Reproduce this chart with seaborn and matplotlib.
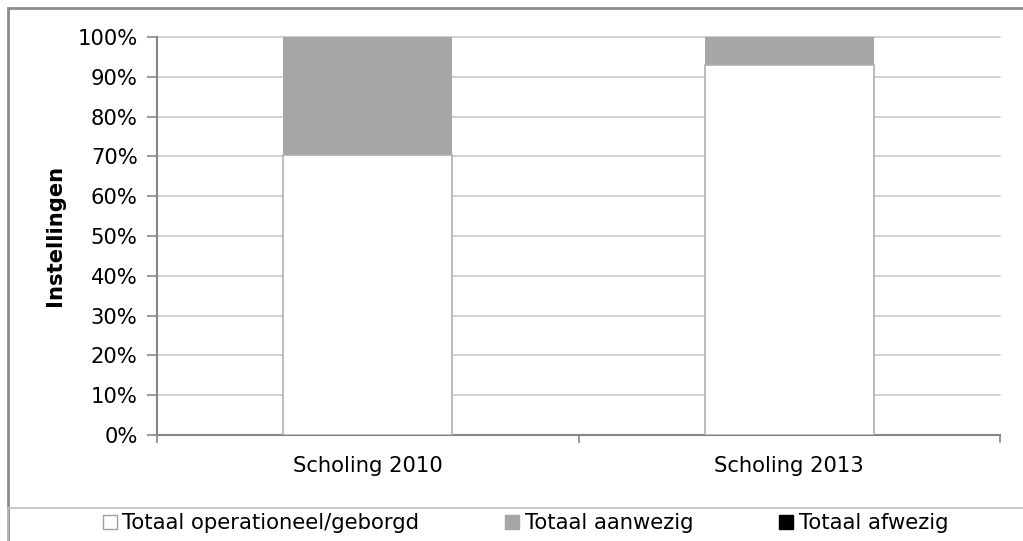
import matplotlib
matplotlib.use("Agg")
import matplotlib.pyplot as plt
import seaborn as sns
import pandas as pd
import numpy as np
from matplotlib.patches import Rectangle
from matplotlib.lines import Line2D

categories = ["Scholing 2010", "Scholing 2013"]
operationeel = [70.4, 92.9]
aanwezig = [29.6, 7.1]
afwezig = [0.0, 0.0]
series_names = ["Totaal operationeel/geborgd", "Totaal aanwezig", "Totaal afwezig"]
series_colors = ["#ffffff", "#a6a6a6", "#000000"]
y_ticks = [0, 10, 20, 30, 40, 50, 60, 70, 80, 90, 100]
y_tick_labels = [f"{v}%" for v in y_ticks]
y_label = "Instellingen"

sns.set_style("white")
plt.rcParams['font.family'] = ['DejaVu Sans']
plt.rcParams['text.color'] = 'black'
plt.rcParams['xtick.color'] = 'black'
plt.rcParams['ytick.color'] = 'black'
FS = 15.2

W, H = 1023, 541
fig = plt.figure(figsize=(W / 100, H / 100), dpi=100)
L, R, T, B = 157, 1000, 37, 435
ax = fig.add_axes([L / W, 1 - B / H, (R - L) / W, (B - T) / H])

cum1 = np.array(operationeel)
cum2 = cum1 + np.array(aanwezig)
cum3 = cum2 + np.array(afwezig)
df = pd.DataFrame({"cat": categories, "c1": cum1, "c2": cum2, "c3": cum3})

grid_c = "#c8c8c8"
axis_c = "#868686"
for yv in y_ticks[1:]:
    ax.axhline(yv, color=grid_c, lw=1.2, zorder=0, clip_on=False)

sns.barplot(data=df, x="cat", y="c3", color=series_colors[2], width=0.4,
            edgecolor="none", linewidth=0, saturation=1, ax=ax, zorder=2)
sns.barplot(data=df, x="cat", y="c2", color=series_colors[1], width=0.4,
            edgecolor="none", linewidth=0, saturation=1, ax=ax, zorder=3)
sns.barplot(data=df, x="cat", y="c1", color=series_colors[0], width=0.4,
            edgecolor="#b0b0b0", linewidth=1.2, saturation=1, ax=ax, zorder=4)

ax.set_xlim(-0.5, 1.5)
ax.set_ylim(0, 100)
ax.set_yticks(y_ticks)
ax.set_yticklabels(y_tick_labels, fontsize=FS)
ax.set_xticks([0, 1])
ax.set_xticklabels(categories, fontsize=FS)
ax.set_xticks([-0.5, 0.5, 1.5], minor=True)
ax.tick_params(axis="x", which="major", bottom=True, length=0, pad=15, labelcolor="black")
ax.tick_params(axis="x", which="minor", bottom=True, length=6, width=1.2, color=axis_c, direction="out")
ax.tick_params(axis="y", which="major", left=True, length=7, width=1.2, color=axis_c,
               direction="out", pad=7, labelcolor="black")
ax.set_xlabel("")
ax.set_ylabel("")
for s in ["top", "right"]:
    ax.spines[s].set_visible(False)
for s in ["left", "bottom"]:
    ax.spines[s].set_color(axis_c)
    ax.spines[s].set_linewidth(1.5)

fig.text(55 / W, 1 - 235 / H, y_label, rotation=90, fontsize=FS, fontweight="bold",
         ha="center", va="center", color="black")

# outer chart border and legend box
fig.patches.append(Rectangle((8 / W, -0.1), 1.2, 1 - 8 / H + 0.1, transform=fig.transFigure,
                             fill=False, edgecolor="#8c8c8c", lw=2))
fig.patches.append(Rectangle((8 / W, -0.1), 1.2, 0.1 + (H - 508) / H, transform=fig.transFigure,
                             fill=False, edgecolor="#bdbdbd", lw=1.2))

handles = [Line2D([], [], marker="s", linestyle="none", markersize=9.5,
                  markerfacecolor=c, markeredgecolor="#a0a0a0" if c == "#ffffff" else c,
                  markeredgewidth=1) for c in series_colors]
fig.legend(handles, series_names, loc="center", bbox_to_anchor=(526 / W, 1 - 523 / H),
           ncol=3, frameon=False, fontsize=FS, handlelength=0.6, handletextpad=0.3,
           columnspacing=4.1, borderaxespad=0, labelcolor="black")

fig.savefig("out.png", dpi=100)
